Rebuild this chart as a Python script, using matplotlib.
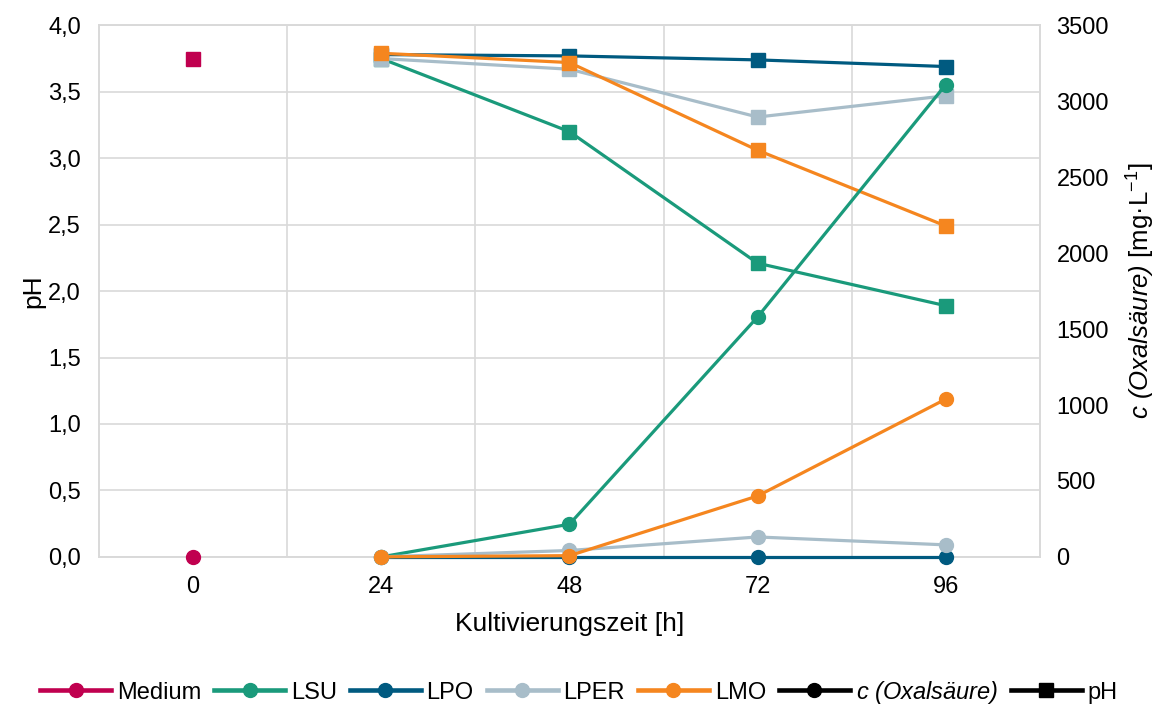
import matplotlib
matplotlib.use("Agg")
import matplotlib.pyplot as plt
from matplotlib.lines import Line2D
from matplotlib.ticker import FuncFormatter

plt.rcParams["font.family"] = ["Liberation Sans", "DejaVu Sans"]
plt.rcParams["mathtext.fontset"] = "custom"
plt.rcParams["mathtext.rm"] = "Liberation Sans:italic"
plt.rcParams["mathtext.it"] = "Liberation Sans:italic"
plt.rcParams["mathtext.sf"] = "Liberation Sans"

# categories (hours)
times = ["0", "24", "48", "72", "96"]

# Medium: only the 0 h sample
medium_ph = [3.745]
medium_conc = [0]

# pH values at 24, 48, 72, 96 h
lsu_ph = [3.75, 3.20, 2.21, 1.89]
lpo_ph = [3.78, 3.77, 3.74, 3.69]
lper_ph = [3.75, 3.67, 3.31, 3.47]
lmo_ph = [3.79, 3.72, 3.06, 2.49]

# oxalic acid concentration [mg/L] at 24, 48, 72, 96 h
lsu_conc = [0, 215, 1580, 3110]
lpo_conc = [0, 0, 0, 0]
lper_conc = [0, 42, 131, 79]
lmo_conc = [0, 8, 401, 1039]

colors = {
    "Medium": "#c0004f",
    "LSU": "#1a9a7b",
    "LPO": "#005a80",
    "LPER": "#a8bdc9",
    "LMO": "#f5861f",
}

later_x = [1, 2, 3, 4]
series = [
    ("LSU", lsu_ph, lsu_conc),
    ("LPO", lpo_ph, lpo_conc),
    ("LPER", lper_ph, lper_conc),
    ("LMO", lmo_ph, lmo_conc),
]

fig = plt.figure(figsize=(11.58, 7.04), dpi=100)
ax = fig.add_axes([0.0855, 0.209, 0.8125, 0.755])
ax2 = ax.twinx()

grid_c = "#d9d9d9"
lw = 2.3
ms = 10
tick_fs = 17

# pH (squares, left axis)
ax.plot([0], medium_ph, marker="s", ms=ms, color=colors["Medium"], lw=0, clip_on=False, zorder=3)
for name, ph, _ in series:
    ax.plot(later_x, ph, marker="s", ms=ms, color=colors[name], lw=lw, clip_on=False, zorder=3)

# concentration (circles, right axis)
ax2.plot([0], medium_conc, marker="o", ms=ms, color=colors["Medium"], lw=0, clip_on=False, zorder=3)
for name, _, conc in series:
    ax2.plot(later_x, conc, marker="o", ms=ms, color=colors[name], lw=lw, clip_on=False, zorder=3)

ax.set_xlim(-0.5, 4.5)
ax.set_ylim(0, 4)
ax2.set_ylim(0, 3500)
ax.set_xticks(range(len(times)))
ax.set_xticklabels(times)
ax.set_yticks([i * 0.5 for i in range(9)])
ax.yaxis.set_major_formatter(FuncFormatter(lambda v, p: f"{v:.1f}".replace(".", ",")))
ax2.set_yticks(range(0, 3501, 500))

# grid: horizontal lines at ticks, vertical lines between categories
ax.set_axisbelow(True)
ax.yaxis.grid(True, color=grid_c, lw=1.2)
ax.set_xticks([0.5, 1.5, 2.5, 3.5], minor=True)
ax.xaxis.grid(True, which="minor", color=grid_c, lw=1.2)
ax.tick_params(axis="y", length=0, labelsize=tick_fs, colors="#000000", pad=13)
ax.tick_params(axis="x", which="both", length=0, labelsize=tick_fs, colors="#000000", pad=14)
ax2.tick_params(length=0, labelsize=tick_fs, colors="#000000", pad=12)
for a in (ax, ax2):
    for sp in a.spines.values():
        sp.set_color(grid_c)
        sp.set_linewidth(1.2)

ax.set_xlabel("Kultivierungszeit [h]", fontsize=19, labelpad=10)
ax.set_ylabel("pH", fontsize=19, labelpad=2)
ax2.set_ylabel(r"$c\ (Oxalsäure)$ [mg·L$^{\mathsf{-1}}$]", fontsize=18.5, labelpad=11)

handles = []
labels = []
for name in ["Medium", "LSU", "LPO", "LPER", "LMO"]:
    handles.append(Line2D([], [], color=colors[name], lw=3.3, marker="o", ms=ms))
    labels.append(name)
handles.append(Line2D([], [], color="black", lw=3.3, marker="o", ms=ms))
labels.append(r"$c\ (Oxalsäure)$")
handles.append(Line2D([], [], color="black", lw=3.3, marker="s", ms=ms))
labels.append("pH")

fig.legend(handles, labels, loc="center", bbox_to_anchor=(0.5, 0.017), ncol=7,
           frameon=False, fontsize=17, handlelength=3.0, handletextpad=0.25,
           columnspacing=0.55, borderpad=0)

fig.savefig("out.png", dpi=100)
